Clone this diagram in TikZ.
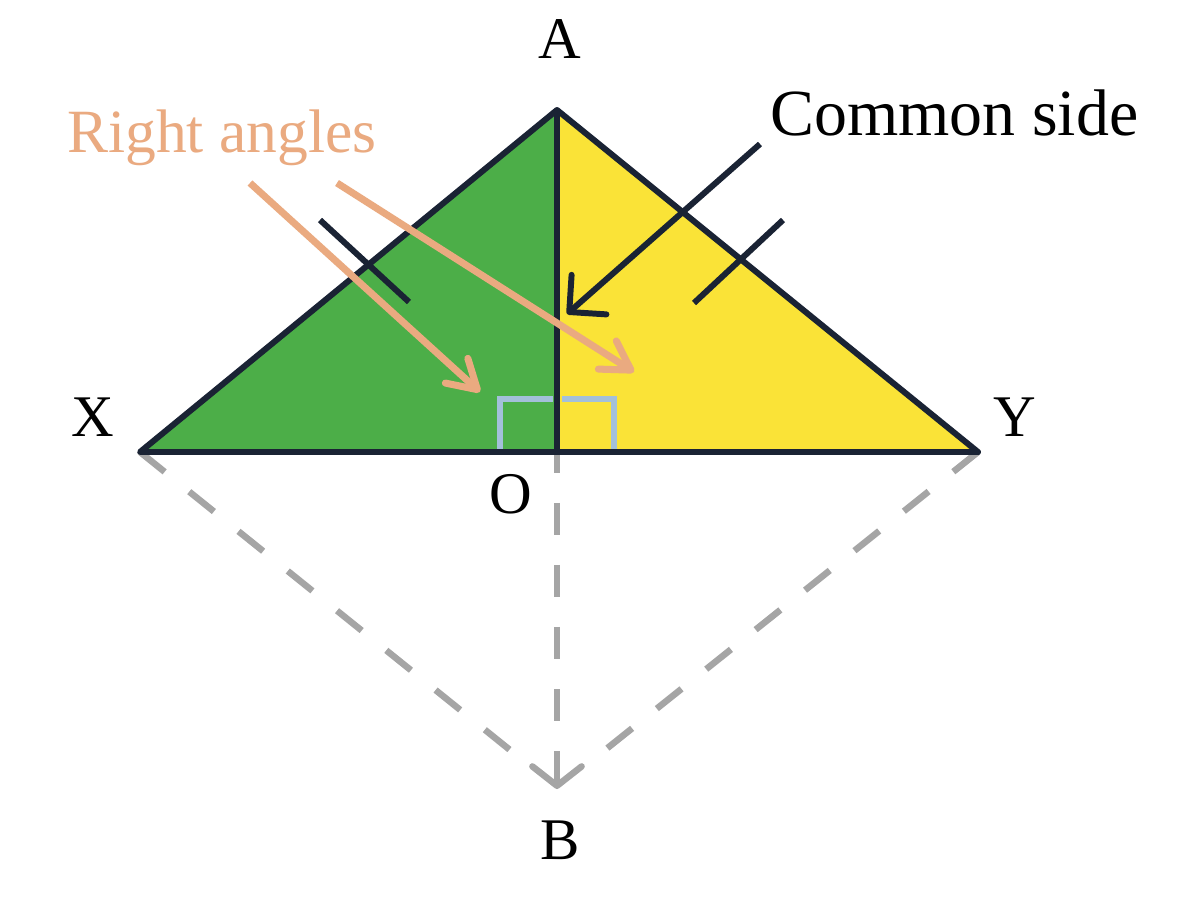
\documentclass[tikz,border=0pt]{standalone}
\usepackage{fontspec}
\setmainfont{Liberation Serif}
\usetikzlibrary{arrows.meta}
\definecolor{edgec}{RGB}{26,35,52}
\definecolor{greenf}{RGB}{76,174,72}
\definecolor{yellowf}{RGB}{250,227,55}
\definecolor{orangec}{RGB}{234,170,128}
\definecolor{dashc}{RGB}{165,165,165}
\definecolor{markc}{RGB}{163,192,218}
\tikzset{
  edge/.style={draw=edgec,line width=3.4pt,line join=round},
  tickmark/.style={draw=edgec,line width=3.4pt},
  dashline/.style={draw=dashc,line width=3.7pt,dash pattern=on 18pt off 18pt},
  rmark/.style={draw=markc,line width=3.1pt},
  orangearrow/.style={draw=orangec,line width=4pt,-{Straight Barb[round,length=16pt,width=19pt]}},
  blackarrow/.style={draw=edgec,line width=3.4pt,-{Straight Barb[round,length=15pt,width=30pt]}},
  lbl/.style={inner sep=0pt,anchor=base,font=\fontsize{33.6}{40}\selectfont},
  caption/.style={inner sep=0pt,anchor=base west}
}
\begin{document}
\begin{tikzpicture}[x=0.02cm,y=-0.02cm]
\fill[white] (0,0) rectangle (1183,912);
\useasboundingbox (0,0) rectangle (1183,912);
% vertices
\coordinate (A) at (557,110);
\coordinate (X) at (140,452);
\coordinate (Y) at (978,452);
\coordinate (O) at (557,452);
\coordinate (Bt) at (557,789);
\coordinate (BL) at (510,750);
\coordinate (BR) at (605,750);
% dashed construction
\draw[dashline] (X) -- (BL);
\draw[dashline] (Y) -- (BR);
\draw[dashline,dash pattern=on 18pt off 17.3pt,dash phase=6.3pt,-{Straight Barb[round,length=11pt,width=28pt]}] (O) -- (Bt);
% triangles
\fill[greenf] (A) -- (X) -- (O) -- cycle;
\fill[yellowf] (A) -- (O) -- (Y) -- cycle;
% right angle marks
\draw[rmark] (500,452) -- (500,399) -- (553,399);
\draw[rmark] (562,399) -- (614,399) -- (614,452);
\draw[edge] (A) -- (X) -- (Y) -- cycle;
\draw[edge] (A) -- (O);
% equal-side ticks
\coordinate (t1a) at (320,220); \coordinate (t1b) at (409,302);
\coordinate (t2a) at (783,220); \coordinate (t2b) at (694,303);
\draw[tickmark] (t1a) -- (t1b);
\draw[tickmark] (t2a) -- (t2b);
% labels
\node[lbl] (lA) at (560,59) {A};
\node[lbl] (lX) at (93,436) {X};
\node[lbl] (lY) at (1015,436) {Y};
\node[lbl] (lO) at (511,513) {O};
\node[lbl] (lB) at (560,859) {B};
\node[caption,text=orangec,font=\fontsize{35}{42}\selectfont] (ra) at (67,153) {Right angles};
\node[caption,text=black,font=\fontsize{37.5}{45}\selectfont] (cs) at (770,136) {Common side};
% arrows
\coordinate (o1s) at (250,183); \coordinate (o1e) at (480,392);
\coordinate (o2s) at (337,183); \coordinate (o2e) at (634,372);
\coordinate (bs) at (760,144); \coordinate (be) at (567,314);
\draw[orangearrow] (o1s) -- (o1e);
\draw[orangearrow] (o2s) -- (o2e);
\draw[blackarrow] (bs) -- (be);
\end{tikzpicture}
\end{document}
